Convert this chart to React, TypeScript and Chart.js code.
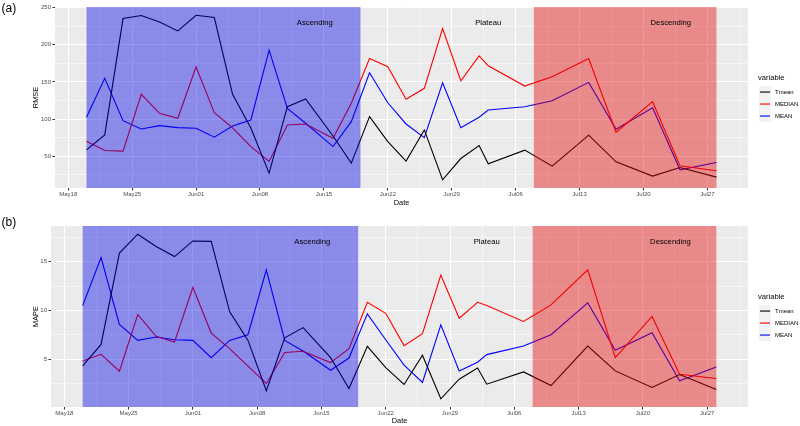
import React, { useEffect, useRef } from "react";
import { Chart, registerables } from "chart.js";
Chart.register(...registerables);

// ---------- data ----------
const dates = [
  "2020-05-20", "2020-05-22", "2020-05-24", "2020-05-26", "2020-05-28", "2020-05-30",
  "2020-06-01", "2020-06-03", "2020-06-05", "2020-06-07", "2020-06-09", "2020-06-11",
  "2020-06-13", "2020-06-16", "2020-06-18", "2020-06-20", "2020-06-22", "2020-06-24",
  "2020-06-26", "2020-06-28", "2020-06-30", "2020-07-02", "2020-07-03", "2020-07-07",
  "2020-07-10", "2020-07-14", "2020-07-17", "2020-07-21", "2020-07-24", "2020-07-28",
];

const seriesNames = ["Tmean", "MEDIAN", "MEAN"];

const tmeanRMSE = [58.5, 78.6, 235.2, 239.3, 230.7, 218.6, 239.7, 236.6, 133.2, 88, 27.2, 116.6, 126.9, 77.2, 40.6, 103.2, 69.6, 43.3, 85.3, 18.2, 46.8, 64.2, 39.7, 58.1, 36.6, 78.2, 42.3, 23.2, 34.7, 21.8];
const medianRMSE = [70.1, 57.5, 56.7, 133.2, 107.7, 101, 170.3, 108.5, 88, 62.9, 42.8, 92, 93.3, 74.2, 121.1, 181.5, 170.3, 126.5, 141.3, 221.8, 151.5, 185, 171.6, 144.3, 156.8, 181.5, 82.2, 123.3, 37, 30.3];
const meanRMSE = [102.3, 154.7, 97.8, 86.6, 91.1, 88.4, 87.6, 75.5, 90.7, 98.7, 192.7, 114.4, 94.3, 62.9, 96.4, 162.2, 121.9, 93.3, 75, 148.8, 88.4, 102.3, 112.1, 116.6, 124.6, 149.3, 86.2, 115.2, 31.6, 41.4];

const tmeanMAPE = [4.32, 6.53, 15.89, 17.83, 16.57, 15.54, 17.14, 17.1, 9.9, 6.94, 1.77, 7.2, 8.25, 5.17, 2.0, 6.33, 4.15, 2.42, 5.41, 0.95, 2.96, 4.11, 2.45, 3.7, 2.31, 6.36, 3.81, 2.11, 3.44, 1.91];
const medianMAPE = [4.83, 5.51, 3.78, 9.59, 7.35, 6.77, 12.38, 7.69, 6.1, 4.3, 2.52, 5.7, 5.82, 4.66, 6.09, 10.85, 9.72, 6.4, 7.62, 13.64, 9.21, 10.85, 10.51, 8.88, 10.58, 14.18, 5.17, 9.39, 3.47, 3.03];
const meanMAPE = [10.51, 15.44, 8.57, 6.94, 7.28, 7.01, 6.94, 5.17, 6.94, 7.52, 14.18, 6.94, 5.85, 3.88, 5.13, 9.66, 7.0, 4.4, 2.62, 8.54, 3.81, 4.7, 5.48, 6.36, 7.52, 10.78, 5.92, 7.72, 2.79, 4.21];

const xTickDates = ["2020-05-18", "2020-05-25", "2020-06-01", "2020-06-08", "2020-06-15", "2020-06-22", "2020-06-29", "2020-07-06", "2020-07-13", "2020-07-20", "2020-07-27"];
const xTickLabels = ["May18", "May25", "Jun01", "Jun08", "Jun15", "Jun22", "Jun29", "Jul06", "Jul13", "Jul20", "Jul27"];

const rmseTicks = [50, 100, 150, 200, 250];
const mapeTicks = [5, 10, 15];

const phaseLabels = ["Ascending", "Plateau", "Descending"];
const phaseStarts = ["2020-05-20", null, "2020-07-08"];
const phaseEnds = ["2020-06-19", null, "2020-07-28"];
const phaseLabelDates = ["2020-06-14", "2020-07-03", "2020-07-23"];
const phaseLabelRMSE = 229;
const phaseLabelMAPE = 17;

// ---------- styles ----------
const FONT = "'Liberation Sans', Arial, Helvetica, sans-serif";
const seriesColors = ["#000000", "#FF0000", "#0000FF"];
const phaseFills = ["rgba(0,0,228,0.41)", null, "rgba(228,0,0,0.41)"];
const PANEL_BG = "#EBEBEB";

const BASE = Date.UTC(2020, 4, 18);
const toX = (s: string) => (Date.parse(s + "T00:00:00Z") - BASE) / 864e5;

type PanelCfg = {
  tag: string;
  yTitle: string;
  series: number[][];
  yMajor: number[];
  yStep: number;
  leftWidth: number;
  plotTop: number;
  plotBottom: number;
  dateY: number;
  labelY: number;
  tagY: number;
};

const W = 800;
const H = 213;
const PLOT_RIGHT = 748;

function expand(vals: number[]) {
  const mn = Math.min(...vals);
  const mx = Math.max(...vals);
  const r = mx - mn;
  return [mn - 0.05 * r, mx + 0.05 * r];
}

function buildChart(canvas: HTMLCanvasElement, cfg: PanelCfg) {
  const xs = dates.map(toX);
  const [xMin, xMax] = expand(xs);
  const [yMin, yMax] = expand(cfg.series.flat());
  const xMajors = xTickDates.map(toX);
  const xMinors = xMajors.map((v) => v + 3.5).concat([xMajors[0] - 3.5]).filter((v) => v >= xMin && v <= xMax);
  const xAll = [...xMajors, ...xMinors].sort((a, b) => a - b);
  const yMinors = cfg.yMajor.map((v) => v - cfg.yStep / 2).concat([cfg.yMajor[cfg.yMajor.length - 1] + cfg.yStep / 2]).filter((v) => v >= yMin && v <= yMax);
  const yAll = [...cfg.yMajor, ...yMinors].sort((a, b) => a - b);
  const isXMajor = (v: number) => xMajors.some((m) => Math.abs(m - v) < 1e-6);
  const isYMajor = (v: number) => cfg.yMajor.some((m) => Math.abs(m - v) < 1e-6);

  const panelPlugin = {
    id: "panelDeco",
    beforeDraw(chart: any) {
      const { ctx, chartArea: a } = chart;
      ctx.save();
      ctx.fillStyle = PANEL_BG;
      ctx.fillRect(a.left, a.top, a.right - a.left, a.bottom - a.top);
      ctx.restore();
    },
    afterDatasetsDraw(chart: any) {
      const { ctx, chartArea: a, scales } = chart;
      const xsc = scales.x;
      const ysc = scales.y;
      ctx.save();
      ctx.beginPath();
      ctx.rect(a.left, a.top, a.right - a.left, a.bottom - a.top);
      ctx.clip();
      phaseLabels.forEach((_, i) => {
        const s = phaseStarts[i];
        const e = phaseEnds[i];
        const f = phaseFills[i];
        if (!s || !e || !f) return;
        const x0 = xsc.getPixelForValue(toX(s));
        const x1 = xsc.getPixelForValue(toX(e));
        ctx.fillStyle = f;
        ctx.fillRect(x0, a.top, x1 - x0, a.bottom - a.top);
      });
      ctx.fillStyle = "#000000";
      ctx.font = `7.7px ${FONT}`;
      ctx.textAlign = "center";
      ctx.textBaseline = "middle";
      phaseLabels.forEach((lab, i) => {
        ctx.fillText(lab, xsc.getPixelForValue(toX(phaseLabelDates[i])), ysc.getPixelForValue(cfg.labelY));
      });
      ctx.restore();
    },
    afterDraw(chart: any) {
      const { ctx, chartArea: a } = chart;
      ctx.save();
      ctx.fillStyle = "#000000";
      ctx.font = `12px ${FONT}`;
      ctx.textAlign = "left";
      ctx.textBaseline = "middle";
      ctx.fillText(cfg.tag, 1.5, cfg.tagY);
      ctx.font = `7.4px ${FONT}`;
      ctx.textAlign = "center";
      ctx.fillText("Date", (a.left + a.right) / 2, cfg.dateY);
      ctx.save();
      ctx.translate(35.5, (a.top + a.bottom) / 2);
      ctx.rotate(-Math.PI / 2);
      ctx.fillText(cfg.yTitle, 0, 0);
      ctx.restore();
      // legend
      const cy = (a.top + a.bottom) / 2;
      ctx.textAlign = "left";
      ctx.font = `7.6px ${FONT}`;
      ctx.fillStyle = "#000000";
      ctx.fillText("variable", 758, cy - 19.5);
      const keyTop = Math.round(cy - 12);
      ctx.fillStyle = "#F2F2F2";
      ctx.fillRect(759, keyTop, 12, 36);
      ctx.font = `6px ${FONT}`;
      seriesNames.forEach((n, i) => {
        const y = keyTop + 6 + i * 12;
        ctx.fillStyle = seriesColors[i];
        ctx.fillRect(760, y - 0.5, 10, 1.1);
        ctx.fillStyle = "#000000";
        ctx.fillText(n, 775, y);
      });
      ctx.restore();
    },
  };

  return new Chart(canvas, {
    type: "line",
    data: {
      datasets: cfg.series.map((vals, i) => ({
        label: seriesNames[i],
        data: vals.map((v, j) => ({ x: xs[j], y: v })),
        borderColor: seriesColors[i],
        backgroundColor: seriesColors[i],
        borderWidth: 1.1,
        pointRadius: 0,
        tension: 0,
        fill: false,
      })),
    },
    options: {
      responsive: false,
      animation: false,
      devicePixelRatio: 1,
      events: [],
      layout: { padding: { left: 0, right: W - PLOT_RIGHT, top: cfg.plotTop, bottom: 0 } },
      plugins: { legend: { display: false }, tooltip: { enabled: false } },
      scales: {
        x: {
          type: "linear",
          min: xMin,
          max: xMax,
          afterBuildTicks: (s: any) => {
            s.ticks = xAll.map((v) => ({ value: v }));
          },
          afterFit: (s: any) => {
            s.height = H - cfg.plotBottom;
          },
          ticks: {
            autoSkip: false,
            maxRotation: 0,
            minRotation: 0,
            padding: 0.5,
            color: "#4D4D4D",
            font: { family: FONT, size: 6 },
            callback: (v: any) => {
              const k = xMajors.findIndex((m) => Math.abs(m - v) < 1e-6);
              return k >= 0 ? xTickLabels[k] : "";
            },
          },
          grid: {
            color: "#FFFFFF",
            lineWidth: (c: any) => (isXMajor(c.tick?.value) ? 1 : 0.5),
            tickColor: (c: any) => (isXMajor(c.tick?.value) ? "#333333" : "rgba(0,0,0,0)"),
            tickLength: 2.5,
            tickWidth: 1,
          },
          border: { display: false },
        },
        y: {
          type: "linear",
          min: yMin,
          max: yMax,
          afterBuildTicks: (s: any) => {
            s.ticks = yAll.map((v) => ({ value: v }));
          },
          afterFit: (s: any) => {
            s.width = cfg.leftWidth;
          },
          ticks: {
            autoSkip: false,
            padding: 1.5,
            color: "#4D4D4D",
            font: { family: FONT, size: 6 },
            callback: (v: any) => (isYMajor(v) ? String(v) : ""),
          },
          grid: {
            color: "#FFFFFF",
            lineWidth: (c: any) => (isYMajor(c.tick?.value) ? 1 : 0.5),
            tickColor: (c: any) => (isYMajor(c.tick?.value) ? "#333333" : "rgba(0,0,0,0)"),
            tickLength: 2.5,
            tickWidth: 1,
          },
          border: { display: false },
        },
      },
    },
    plugins: [panelPlugin],
  } as any);
}

const panelA: PanelCfg = {
  tag: "(a)",
  yTitle: "RMSE",
  series: [tmeanRMSE, medianRMSE, meanRMSE],
  yMajor: rmseTicks,
  yStep: 50,
  leftWidth: 55,
  plotTop: 7,
  plotBottom: 188,
  dateY: 202.5,
  labelY: phaseLabelRMSE,
  tagY: 8.5,
};

const panelB: PanelCfg = {
  tag: "(b)",
  yTitle: "MAPE",
  series: [tmeanMAPE, medianMAPE, meanMAPE],
  yMajor: mapeTicks,
  yStep: 5,
  leftWidth: 51,
  plotTop: 13,
  plotBottom: 194,
  dateY: 207.8,
  labelY: phaseLabelMAPE,
  tagY: 10,
};

function Panel({ cfg }: { cfg: PanelCfg }) {
  const ref = useRef<HTMLCanvasElement | null>(null);
  useEffect(() => {
    if (!ref.current) return;
    const ch = buildChart(ref.current, cfg);
    return () => ch.destroy();
  }, [cfg]);
  return (
    <div style={{ width: W, height: H }}>
      <canvas ref={ref} width={W} height={H} style={{ display: "block", width: W, height: H }} />
    </div>
  );
}

export default function App() {
  useEffect(() => {
    document.body.style.margin = "0";
    document.body.style.background = "#FFFFFF";
  }, []);
  return (
    <div style={{ width: W, height: 426, background: "#FFFFFF" }}>
      <Panel cfg={panelA} />
      <Panel cfg={panelB} />
    </div>
  );
}
